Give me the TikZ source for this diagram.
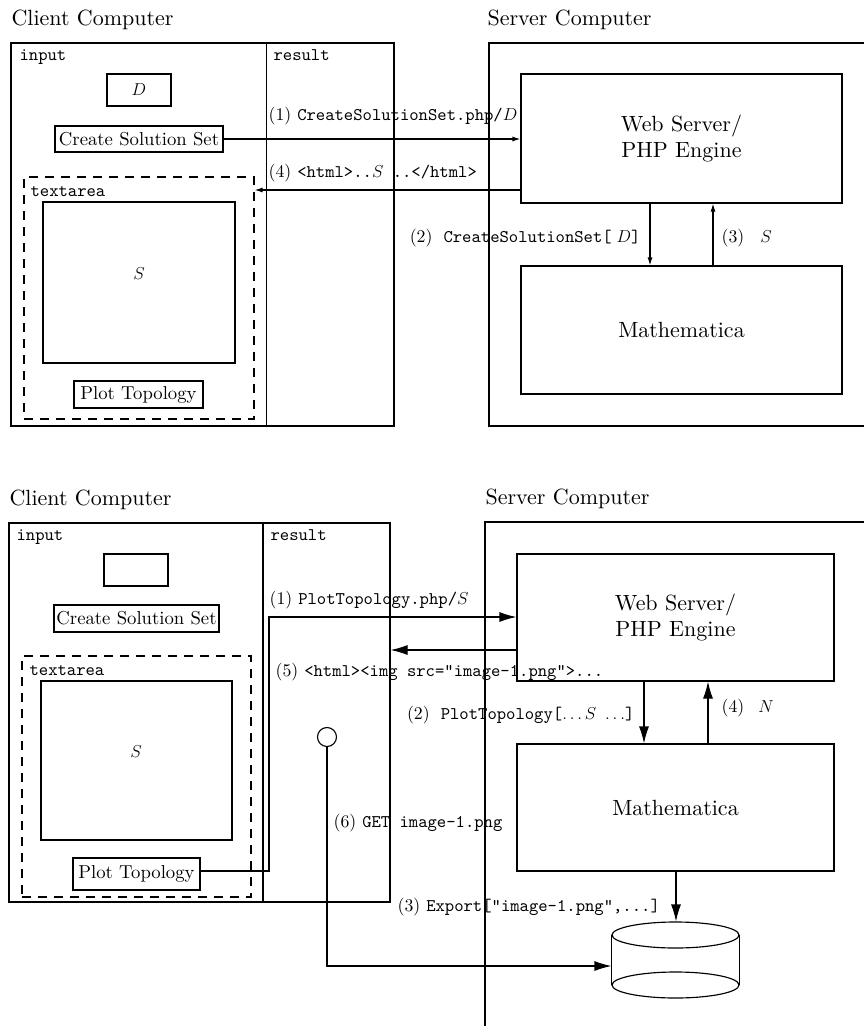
\documentclass[tikz,border=0pt]{standalone}
\usepackage{fontspec}
\setmainfont{lmroman10-regular.otf}[ItalicFont=lmroman10-italic.otf, BoldFont=lmroman10-bold.otf]
\setmonofont{lmmono10-regular.otf}
\usetikzlibrary{arrows.meta}
\begin{document}
\begin{tikzpicture}[x=1pt,y=-1pt,line width=1.15pt,
  ttl/.style={font=\fontsize{22}{26}\selectfont, inner sep=0, anchor=base west},
  lbl/.style={font=\fontsize{17.8}{21}\selectfont, inner sep=0, anchor=base west},
  ttlbl/.style={font=\fontsize{17.8}{21}\selectfont\ttfamily, inner sep=0, anchor=base west},
  bx/.style={draw, inner sep=0},
  btn/.style={draw, inner sep=0, font=\fontsize{18.7}{22}\selectfont},
  bigbox/.style={draw, inner sep=0, align=center, font=\fontsize{22}{26.4}\selectfont},
  dbox/.style={draw, inner sep=0, dash pattern=on 9pt off 7pt},
  arrS/.style={-{Latex[length=8pt,width=5pt]}},
  arrB/.style={-{Latex[length=17pt,width=10pt]}}]
\useasboundingbox (0,0) rectangle (864,1026);
\clip (0,0) rectangle (864,1026);

% ================= TOP =================
\node[ttl] (t1c) at (11,25) {Client Computer};
\node[ttl] (t1s) at (487,25) {Server Computer};
\node[bx, minimum width=383, minimum height=383] (client1) at (202.5,234.5) {};
\draw (266.7,43) -- (266.7,426);
\node[ttlbl] (in1) at (19,60) {input};
\node[ttlbl] (re1) at (273,60) {result};
\node[bx, minimum width=64, minimum height=32, font=\fontsize{18}{21}\selectfont] (D1) at (139,90) {$D$};
\node[btn, minimum width=168, minimum height=26] (css1) at (139,139) {Create Solution Set};
\node[dbox, minimum width=230, minimum height=242] (ta1) at (139,298) {};
\node[ttlbl] (tal1) at (30,196.5) {textarea};
\node[bx, minimum width=192, minimum height=161] (S1) at (139,282.5) {};
\node[inner sep=0, font=\fontsize{18}{21}\selectfont] (S1t) at (139,274) {$S$};
\node[btn, minimum width=129, minimum height=27] (pt1) at (138.5,394.5) {Plot Topology};

\draw (900,43) -- (489,43) -- (489,426) -- (900,426);
\node[bigbox, minimum width=321, minimum height=129] (web1) at (681.5,138.5) {Web Server/\\PHP Engine};
\node[bigbox, minimum width=321, minimum height=128] (math1) at (681.5,330) {Mathematica};

\coordinate (y190) at (0,190);
\coordinate (x650) at (650,0);
\coordinate (x713) at (713,0);
\draw[arrS] (css1.east) -- (css1.east -| web1.west);
\draw[arrS] (web1.west |- y190) -- (ta1.east |- y190);
\draw[arrS] (web1.south -| x650) -- (math1.north -| x650);
\draw[arrS] (math1.north -| x713) -- (web1.south -| x713);

\node[lbl] (l11) at (268,120.5) {(1) \texttt{CreateSolutionSet.php/}$D$};
\node[lbl] (l14) at (268,177) {(4) \texttt{<html>..}$S$\texttt{ ..</html>}};
\node[lbl, anchor=base east] (l12) at (641,242) {(2)\hspace{11pt}\texttt{CreateSolutionSet[}$\;D$\texttt{]}};
\node[lbl] (l13) at (721,242) {(3)\hspace{16pt}$S$};

% ================= BOTTOM =================
\node[ttl] (t2c) at (9,505) {Client Computer};
\node[ttl] (t2s) at (485,504) {Server Computer};
\node[bx, minimum width=381, minimum height=379] (client2) at (199.5,712.5) {};
\draw (263,523) -- (263,902);
\node[ttlbl] (in2) at (16,540) {input};
\node[ttlbl] (re2) at (270,540) {result};
\node[bx, minimum width=64, minimum height=32] (D2) at (136,570) {};
\node[btn, minimum width=165, minimum height=27] (css2) at (136.5,618.5) {Create Solution Set};
\node[dbox, minimum width=229, minimum height=241] (ta2) at (136.5,776.5) {};
\node[ttlbl] (tal2) at (29,675) {textarea};
\node[bx, minimum width=191, minimum height=159] (S2) at (136.5,760.5) {};
\node[inner sep=0, font=\fontsize{18}{21}\selectfont] (S2t) at (136,752) {$S$};
\node[btn, minimum width=127, minimum height=32] (pt2) at (136.5,874) {Plot Topology};

\draw (900,522) -- (485,522) -- (485,1040);
\node[bigbox, minimum width=317, minimum height=127] (web2) at (675.5,617.5) {Web Server/\\PHP Engine};
\node[bigbox, minimum width=317, minimum height=127] (math2) at (675.5,807.5) {Mathematica};

% database cylinder
\node[minimum width=127, minimum height=76, inner sep=0] (db) at (675.5,960) {};
\draw (675.5,935) ellipse [x radius=63.5, y radius=13];
\draw (675.5,985) ellipse [x radius=63.5, y radius=13];
\draw (db.west |- 0,935) -- (db.west |- 0,985);
\draw (db.east |- 0,935) -- (db.east |- 0,985);

\node[circle, draw, minimum size=19, inner sep=0] (circ) at (327,737) {};

\coordinate (y871) at (0,871);
\coordinate (x269) at (269,0);
\coordinate (y617) at (0,617);
\coordinate (y650) at (0,650);
\coordinate (y966) at (0,966);
\coordinate (x644) at (644,0);
\coordinate (x708) at (708,0);
\coordinate (x676) at (676,0);
\coordinate (k1) at (x269 |- y871);
\coordinate (k2) at (x269 |- y617);
\draw[arrB] (pt2.east |- y871) -- (k1) -- (k2) -- (web2.west |- y617);
\draw[arrB] (web2.west |- y650) -- (client2.east |- y650);
\draw[arrB] (web2.south -| x644) -- (math2.north -| x644);
\draw[arrB] (math2.north -| x708) -- (web2.south -| x708);
\draw[arrB] (math2.south -| x676) -- (db.north -| x676);
\draw[arrB] (circ.south) |- (db.west |- y966);

\node[lbl] (l21) at (269,604) {(1) \texttt{PlotTopology.php/}$S$};
\node[lbl] (l25) at (275,676) {(5) \texttt{<html><img src="image-1.png">...}};
\node[lbl, anchor=base east] (l22) at (635,719) {(2)\hspace{11pt}\texttt{PlotTopology[}$\ldots S\ \ldots$\texttt{]}};
\node[lbl] (l24) at (721,712) {(4)\hspace{14pt}$N$};
\node[lbl] (l26) at (333,827) {(6) \texttt{GET image-1.png}};
\node[lbl] (l23) at (397,911) {(3) \texttt{Export["image-1.png",...]}};
\end{tikzpicture}
\end{document}
